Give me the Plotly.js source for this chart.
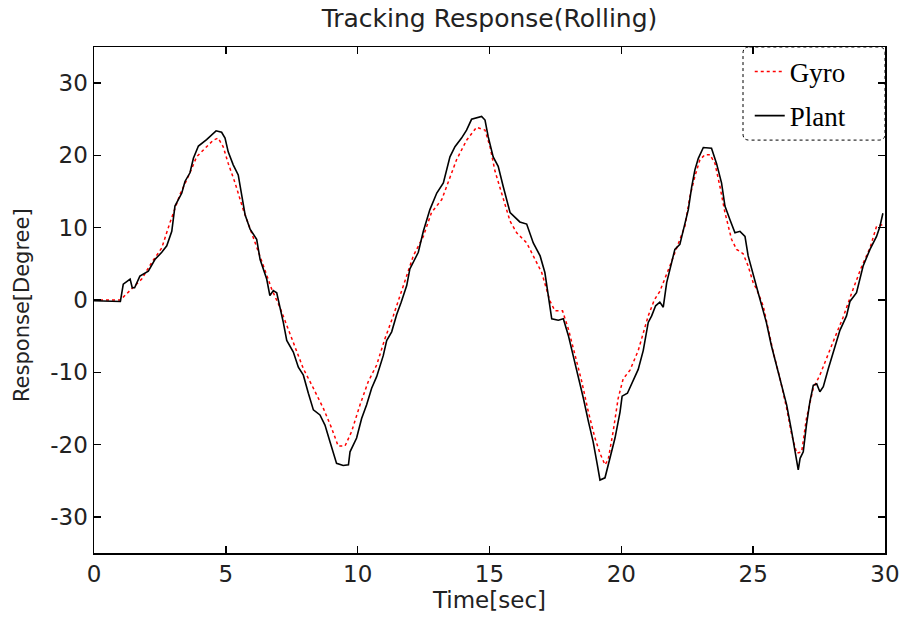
<!DOCTYPE html>
<html>
<head>
<meta charset="utf-8">
<script src="https://cdn.plot.ly/plotly-3.0.1.min.js"></script>
<style>html,body{margin:0;padding:0;background:#fff;}#chart{width:906px;height:619px;}</style>
</head>
<body>
<div id="chart"></div>
<script>
const plantT = [0,0.9,1.0,1.11,1.37,1.45,1.54,1.74,2.06,2.31,2.57,2.76,2.95,3.07,3.33,3.45,3.64,3.77,3.96,4.27,4.63,4.84,4.97,5.09,5.28,5.47,5.6,5.73,5.92,6.17,6.3,6.42,6.55,6.67,6.8,6.93,7.05,7.18,7.31,7.56,7.75,7.94,8.13,8.32,8.57,8.76,8.95,9.2,9.45,9.65,9.71,9.96,10.15,10.34,10.53,10.72,10.97,11.1,11.29,11.48,11.65,11.86,11.98,12.3,12.49,12.74,13.0,13.25,13.5,13.69,13.94,14.13,14.32,14.7,14.83,14.95,15.14,15.33,15.52,15.78,16.15,16.41,16.66,16.92,17.1,17.2,17.36,17.61,17.8,17.99,18.18,18.37,18.56,18.75,18.93,19.09,19.19,19.38,19.57,19.76,19.95,20.03,20.23,20.42,20.64,20.83,21.02,21.15,21.3,21.46,21.59,21.72,22.03,22.22,22.35,22.54,22.67,22.79,22.92,23.11,23.42,23.61,23.8,23.93,24.12,24.31,24.5,24.69,24.81,25.0,25.19,25.38,25.5,25.69,25.89,26.08,26.27,26.46,26.65,26.71,26.78,26.9,27.02,27.15,27.28,27.41,27.53,27.66,27.85,28.1,28.29,28.54,28.67,28.92,29.17,29.43,29.68,29.81,29.92];
const plantV = [-0.1,-0.2,-0.2,2.2,2.9,1.7,1.7,3.3,4.0,5.6,6.6,7.5,9.5,13.0,14.8,16.4,17.6,19.6,21.3,22.2,23.4,23.2,22.4,20.5,18.7,17.3,14.6,11.8,9.8,8.4,5.6,4.3,2.9,0.6,1.3,1.0,-0.8,-3.1,-5.6,-7.2,-9.3,-10.4,-12.9,-15.2,-15.9,-17.3,-19.6,-22.6,-22.9,-22.8,-21.0,-19.1,-16.4,-14.5,-12.2,-10.6,-7.7,-5.6,-4.4,-2.0,-0.3,2.0,4.3,6.6,9.5,12.5,14.8,16.2,19.8,21.2,22.4,23.5,25.0,25.4,24.9,22.6,19.8,18.5,15.7,12.1,10.8,10.5,7.9,6.1,3.8,1.1,-2.6,-2.8,-2.6,-4.9,-7.7,-10.4,-13.6,-16.8,-19.6,-22.8,-24.9,-24.6,-21.9,-19.1,-15.5,-13.3,-12.9,-11.3,-9.6,-7.0,-3.1,-2.2,-0.8,-0.3,-1.0,2.4,7.0,7.7,9.8,12.5,15.7,18.0,19.6,21.1,21.0,18.9,16.2,13.0,11.1,9.3,9.5,8.8,6.1,3.4,1.0,-1.5,-3.1,-6.3,-9.0,-11.8,-14.5,-18.2,-21.9,-23.5,-21.9,-21.0,-17.3,-14.1,-11.8,-11.6,-12.7,-12.0,-9.5,-6.3,-4.2,-2.2,-0.2,1.0,4.7,7.0,8.8,10.2,12.0];

const gyroT = [0,1.0,1.11,1.37,1.81,2.19,2.57,2.88,3.26,3.64,3.89,4.27,4.52,4.71,4.9,5.09,5.35,5.66,5.85,6.36,6.74,7.05,7.31,7.56,7.94,8.32,8.7,9.01,9.26,9.52,9.77,10.09,10.4,10.72,11.03,11.35,11.73,12.11,12.49,12.8,13.19,13.5,13.75,14.13,14.51,14.83,15.02,15.21,15.52,15.78,16.03,16.41,16.66,16.98,17.29,17.48,17.77,17.99,18.25,18.5,18.75,19.0,19.19,19.38,19.5,19.69,19.88,20.07,20.33,20.64,20.83,21.02,21.25,21.46,21.84,22.16,22.41,22.6,22.79,22.98,23.17,23.36,23.55,23.74,23.93,24.18,24.37,24.62,24.81,25.0,25.13,25.38,25.57,25.76,26.02,26.27,26.46,26.65,26.84,27.02,27.28,27.53,28.03,28.41,28.79,29.1,29.43,29.68,30.0];
const gyroV = [0,0,0.4,1.3,2.9,5.2,7.2,10.7,14.6,17.6,19.8,21.2,22.1,22.4,21.2,18.9,16.2,12.5,10.5,5.4,1.5,-1.0,-3.5,-5.8,-9.5,-12.2,-15.0,-17.7,-20.2,-20.2,-18.2,-14.5,-11.3,-9.0,-5.4,-2.2,1.8,6.1,8.8,12.1,13.9,17.1,19.4,22.1,23.9,23.5,21.2,17.8,13.9,10.9,9.3,7.9,6.1,3.8,-0.1,-1.5,-1.5,-4.0,-7.7,-11.3,-15.5,-19.1,-21.2,-22.8,-22.1,-18.2,-13.6,-10.9,-9.7,-7.0,-4.6,-2.2,0.0,1.2,4.7,7.9,10.2,14.3,17.1,19.4,20.1,20.1,18.9,15.7,12.1,8.4,7.0,6.4,4.7,2.4,1.5,-0.8,-4.0,-7.2,-10.9,-15.0,-18.6,-21.2,-21.0,-16.4,-12.2,-10.4,-5.8,-2.4,1.5,4.5,7.2,10.2,10.5];

const xTicks = [0,5,10,15,20,25,30];
const yTicks = [-30,-20,-10,0,10,20,30];
const yTickText = ['-30','-20','-10','0','10','20','30'];

const sans = 'DejaVu Sans, Liberation Sans, Arial, sans-serif';
const axisCommon = {
  showline: true, linecolor: '#000', linewidth: 1.5, mirror: 'ticks',
  ticks: 'inside', ticklen: 7, tickwidth: 1.5, tickcolor: '#000',
  showgrid: false, zeroline: false,
  tickfont: {family: sans, size: 23, color: '#222'}
};

const data = [
  {x: gyroT, y: gyroV, name: 'Gyro', mode: 'lines', legendgroup: 'g1',
   line: {color: '#ff0000', width: 1.5, dash: '3px,3px'}},
  {x: plantT, y: plantV, name: 'Plant', mode: 'lines', legendgroup: 'g2',
   line: {color: '#000', width: 1.6}}
];

const r = 0.008, ry = 0.012;
const x0 = 0.8205, x1 = 1.0, y0 = 0.816, y1 = 1.0;
const boxPath = `M ${x0+r} ${y1} L ${x1-r} ${y1} Q ${x1} ${y1} ${x1} ${y1-ry} L ${x1} ${y0+ry} Q ${x1} ${y0} ${x1-r} ${y0} L ${x0+r} ${y0} Q ${x0} ${y0} ${x0} ${y0+ry} L ${x0} ${y1-ry} Q ${x0} ${y1} ${x0+r} ${y1} Z`;

const layout = {
  width: 906, height: 619,
  margin: {l: 94, r: 21, t: 47, b: 66},
  paper_bgcolor: '#fff', plot_bgcolor: '#fff',
  title: {text: 'Tracking Response(Rolling)', font: {family: sans, size: 25, color: '#222'},
          x: 0.5, xref: 'paper', y: 1 - 18/619, yref: 'container', yanchor: 'middle'},
  xaxis: Object.assign({}, axisCommon, {range: [0, 30], tickvals: xTicks,
          title: {text: 'Time[sec]', font: {family: sans, size: 23, color: '#222'}, standoff: 3}}),
  yaxis: Object.assign({}, axisCommon, {range: [-35, 35], tickvals: yTicks, ticktext: yTickText}),
  annotations: [{text: 'Response[Degree]', xref: 'paper', yref: 'paper',
                 x: (22 - 94) / 791, y: 0.49, xanchor: 'center', yanchor: 'middle',
                 textangle: -90, showarrow: false,
                 font: {family: sans, size: 21, color: '#222'}}],
  showlegend: true,
  legend: {x: 0.829, xanchor: 'left', y: 0.999, yanchor: 'top', bgcolor: 'rgba(255,255,255,0)',
           borderwidth: 0, tracegroupgap: 6,
           font: {family: 'Liberation Serif, Times New Roman, serif', size: 27, color: '#000'}},
  shapes: [{type: 'path', xref: 'paper', yref: 'paper', path: boxPath,
            line: {color: '#000', width: 1, dash: 'dot'}, fillcolor: 'rgba(0,0,0,0)', layer: 'above'}]
};

Plotly.newPlot('chart', data, layout, {displayModeBar: false, staticPlot: true});
</script>
</body>
</html>
